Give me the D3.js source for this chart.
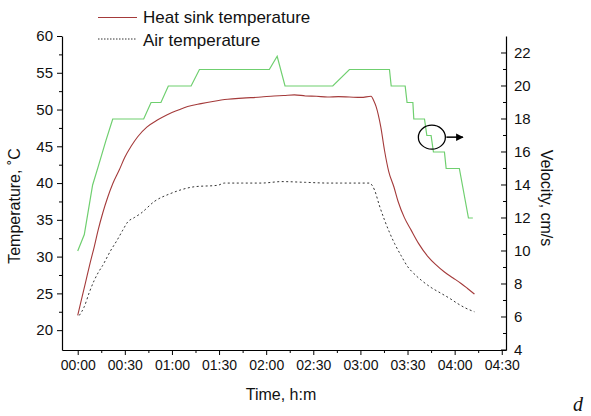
<!DOCTYPE html>
<html><head><meta charset="utf-8">
<script src="https://cdn.jsdelivr.net/npm/d3@7"></script>
<style>body{margin:0;background:#fff}svg{display:block}text{font-family:"Liberation Sans",Arial,sans-serif;fill:#111}</style>
</head><body><svg id="c" width="591" height="416"></svg>
<script>
// time in minutes
const heatT = [0,2,5,8,10.6,13,15.9,19,22.3,26.5,30,34,38.2,44,51,57,63.7,70,78.5,86,95.5,105,116.8,125,131,138,145,152,159,166,173,180.5,186.8,188.5,190,193,195.3,198,201.3,204,208,212.3,217,223,228,233.5,239,244.1,248,252.6];
const heatV = [22,23.8,26.5,29.2,31.4,33.6,35.9,38,39.9,41.8,43.5,45,46.3,47.6,48.6,49.3,49.9,50.4,50.8,51.1,51.4,51.55,51.7,51.85,51.9,52.0,51.85,51.8,51.7,51.75,51.7,51.65,51.8,51.2,50.4,47.6,44.5,41.6,39.5,37.5,35.3,33.6,31.8,30.0,28.9,27.9,27.1,26.35,25.7,24.9];
const airT = [1,4.2,7.5,10.6,13,15.9,21.2,25,28.7,31.8,36,40.3,48.8,59.4,66,74.3,89.2,93.4,105,116.8,130,145,160,168,180,185.7,189,192,195.3,198.5,201.7,206,210.2,214,218.7,225,231.4,237,242,247,252.6];
const airV = [22,23.2,25.2,26.8,27.8,28.8,30.9,32.2,33.6,34.7,35.3,35.9,37.5,38.6,39.1,39.5,39.7,40.0,40.0,40.0,40.2,40.1,40.0,40.0,40.0,40.0,39.05,37.0,35.0,33.3,31.8,30.1,28.6,27.7,26.8,25.8,25.0,24.3,23.6,23.0,22.5];
const velT = [0,4.2,9.5,13,18,22.3,42,46.7,53,57.7,72.2,77.5,122,127,132,162.4,173,198.5,199.6,208.5,209.7,213.4,214,220.8,222.3,225,226.5,233.5,234.6,243,248.8,251.6];
const velV = [10,11,14,15.1,16.7,18,18,19,19,20,20,21,21,21.8,20,20,21,21,20,20,19,19,18,18,17,17,16,16,15,15,12,12];
const leftTicks = [20,25,30,35,40,45,50,55,60];
const rightTicks = [4,6,8,10,12,14,16,18,20,22];
const timeTicks = [0,30,60,90,120,150,180,210,240,270];
const legendLabels = ["Heat sink temperature","Air temperature"];
const annot = {t:225.5, v:16.9};

const svg = d3.select("#c");
const x = d3.scaleLinear().domain([-10,272.7]).range([62,506]);
const yL = d3.scaleLinear().domain([17.3,60]).range([350,36]);
const yR = d3.scaleLinear().domain([4,23.03]).range([350,36]);
const fmt = m => d3.format("02")(Math.floor(m/60)) + ":" + d3.format("02")(m%60);

// left axis
const gL = svg.append("g").attr("transform","translate(62,0)");
gL.call(d3.axisLeft(yL).tickValues(leftTicks).tickSize(5).tickPadding(4).tickSizeOuter(0));
gL.append("g").call(d3.axisLeft(yL).tickValues(d3.range(22.5,60,5)).tickSize(3).tickFormat("").tickSizeOuter(0)).select(".domain").remove();
// right axis (ticks inward)
const gR = svg.append("g").attr("transform","translate(506,0)");
gR.call(d3.axisRight(yR).tickValues(rightTicks).tickSize(0).tickPadding(8).tickSizeOuter(0));
gR.selectAll(".tick line").remove();
gR.append("g").selectAll("line").data(rightTicks).join("line").attr("x1",-5).attr("x2",0).attr("y1",d=>yR(d)).attr("y2",d=>yR(d)).attr("stroke","#000");
gR.append("g").selectAll("line").data(d3.range(5,23,2)).join("line").attr("x1",-3).attr("x2",0).attr("y1",d=>yR(d)).attr("y2",d=>yR(d)).attr("stroke","#000");
// bottom axis
const gB = svg.append("g").attr("transform","translate(0,350)");
gB.call(d3.axisBottom(x).tickValues(timeTicks).tickFormat(fmt).tickSize(5).tickPadding(5).tickSizeOuter(0));
gB.append("g").call(d3.axisBottom(x).tickValues(d3.range(15,270,30)).tickSize(3).tickFormat("").tickSizeOuter(0)).select(".domain").remove();
svg.selectAll(".domain").attr("stroke","#000").attr("stroke-width",1.2);
svg.selectAll(".tick text").style("font-size","14px").attr("fill","#111");
gR.selectAll(".tick text").style("font-size","15px");
gL.selectAll(".tick text").style("font-size","15px");

// lines
const heat = heatT.map((t,i)=>[t,heatV[i]]);
const air = airT.map((t,i)=>[t,airV[i]]);
const vel = velT.map((t,i)=>[t,velV[i]]);
svg.append("path").datum(vel).attr("fill","none").attr("stroke","#6fcf6f").attr("stroke-width",1.2)
  .attr("d",d3.line().x(d=>x(d[0])).y(d=>yR(d[1])));
svg.append("path").datum(air).attr("fill","none").attr("stroke","#333").attr("stroke-width",1).attr("stroke-dasharray","2,2.5")
  .attr("d",d3.line().curve(d3.curveMonotoneX).x(d=>x(d[0])).y(d=>yL(d[1])));
svg.append("path").datum(heat).attr("fill","none").attr("stroke","#a43a3a").attr("stroke-width",1.1)
  .attr("d",d3.line().curve(d3.curveMonotoneX).x(d=>x(d[0])).y(d=>yL(d[1])));

// annotation circle + arrow
const ax = x(annot.t), ay = yR(annot.v);
svg.append("ellipse").attr("cx",ax).attr("cy",ay).attr("rx",13.5).attr("ry",12).attr("fill","none").attr("stroke","#000").attr("stroke-width",1.3);
svg.append("defs").append("marker").attr("id","ah").attr("viewBox","0 0 10 10").attr("refX",9).attr("refY",5)
  .attr("markerWidth",7).attr("markerHeight",5).attr("orient","auto").append("path").attr("d","M0,0L10,5L0,10z").attr("fill","#000");
svg.append("line").attr("x1",ax+14.5).attr("x2",ax+31).attr("y1",ay).attr("y2",ay).attr("stroke","#000").attr("stroke-width",1.5).attr("marker-end","url(#ah)");

// legend
const lg = svg.append("g");
lg.append("line").attr("x1",98).attr("x2",137).attr("y1",17.5).attr("y2",17.5).attr("stroke","#a43a3a").attr("stroke-width",1.1);
lg.append("line").attr("x1",98).attr("x2",136).attr("y1",39).attr("y2",39).attr("stroke","#333").attr("stroke-dasharray","1.5,1.5");
lg.selectAll("text").data(legendLabels).join("text").attr("x",143).attr("y",(d,i)=>23+i*22.5).style("font-size","17px").text(d=>d);

// axis titles
svg.append("text").attr("transform","translate(20,206) rotate(-90)").attr("text-anchor","middle").style("font-size","16px").text("Temperature, \u02daC");
svg.append("text").attr("transform","translate(541,198) rotate(90)").attr("text-anchor","middle").style("font-size","16px").text("Velocity, cm/s");
svg.append("text").attr("x",281).attr("y",400).attr("text-anchor","middle").style("font-size","16px").text("Time, h:m");
svg.append("text").attr("x",573).attr("y",411).style("font-family","'Liberation Serif',serif").style("font-style","italic").style("font-size","20px").text("d");
</script></body></html>
